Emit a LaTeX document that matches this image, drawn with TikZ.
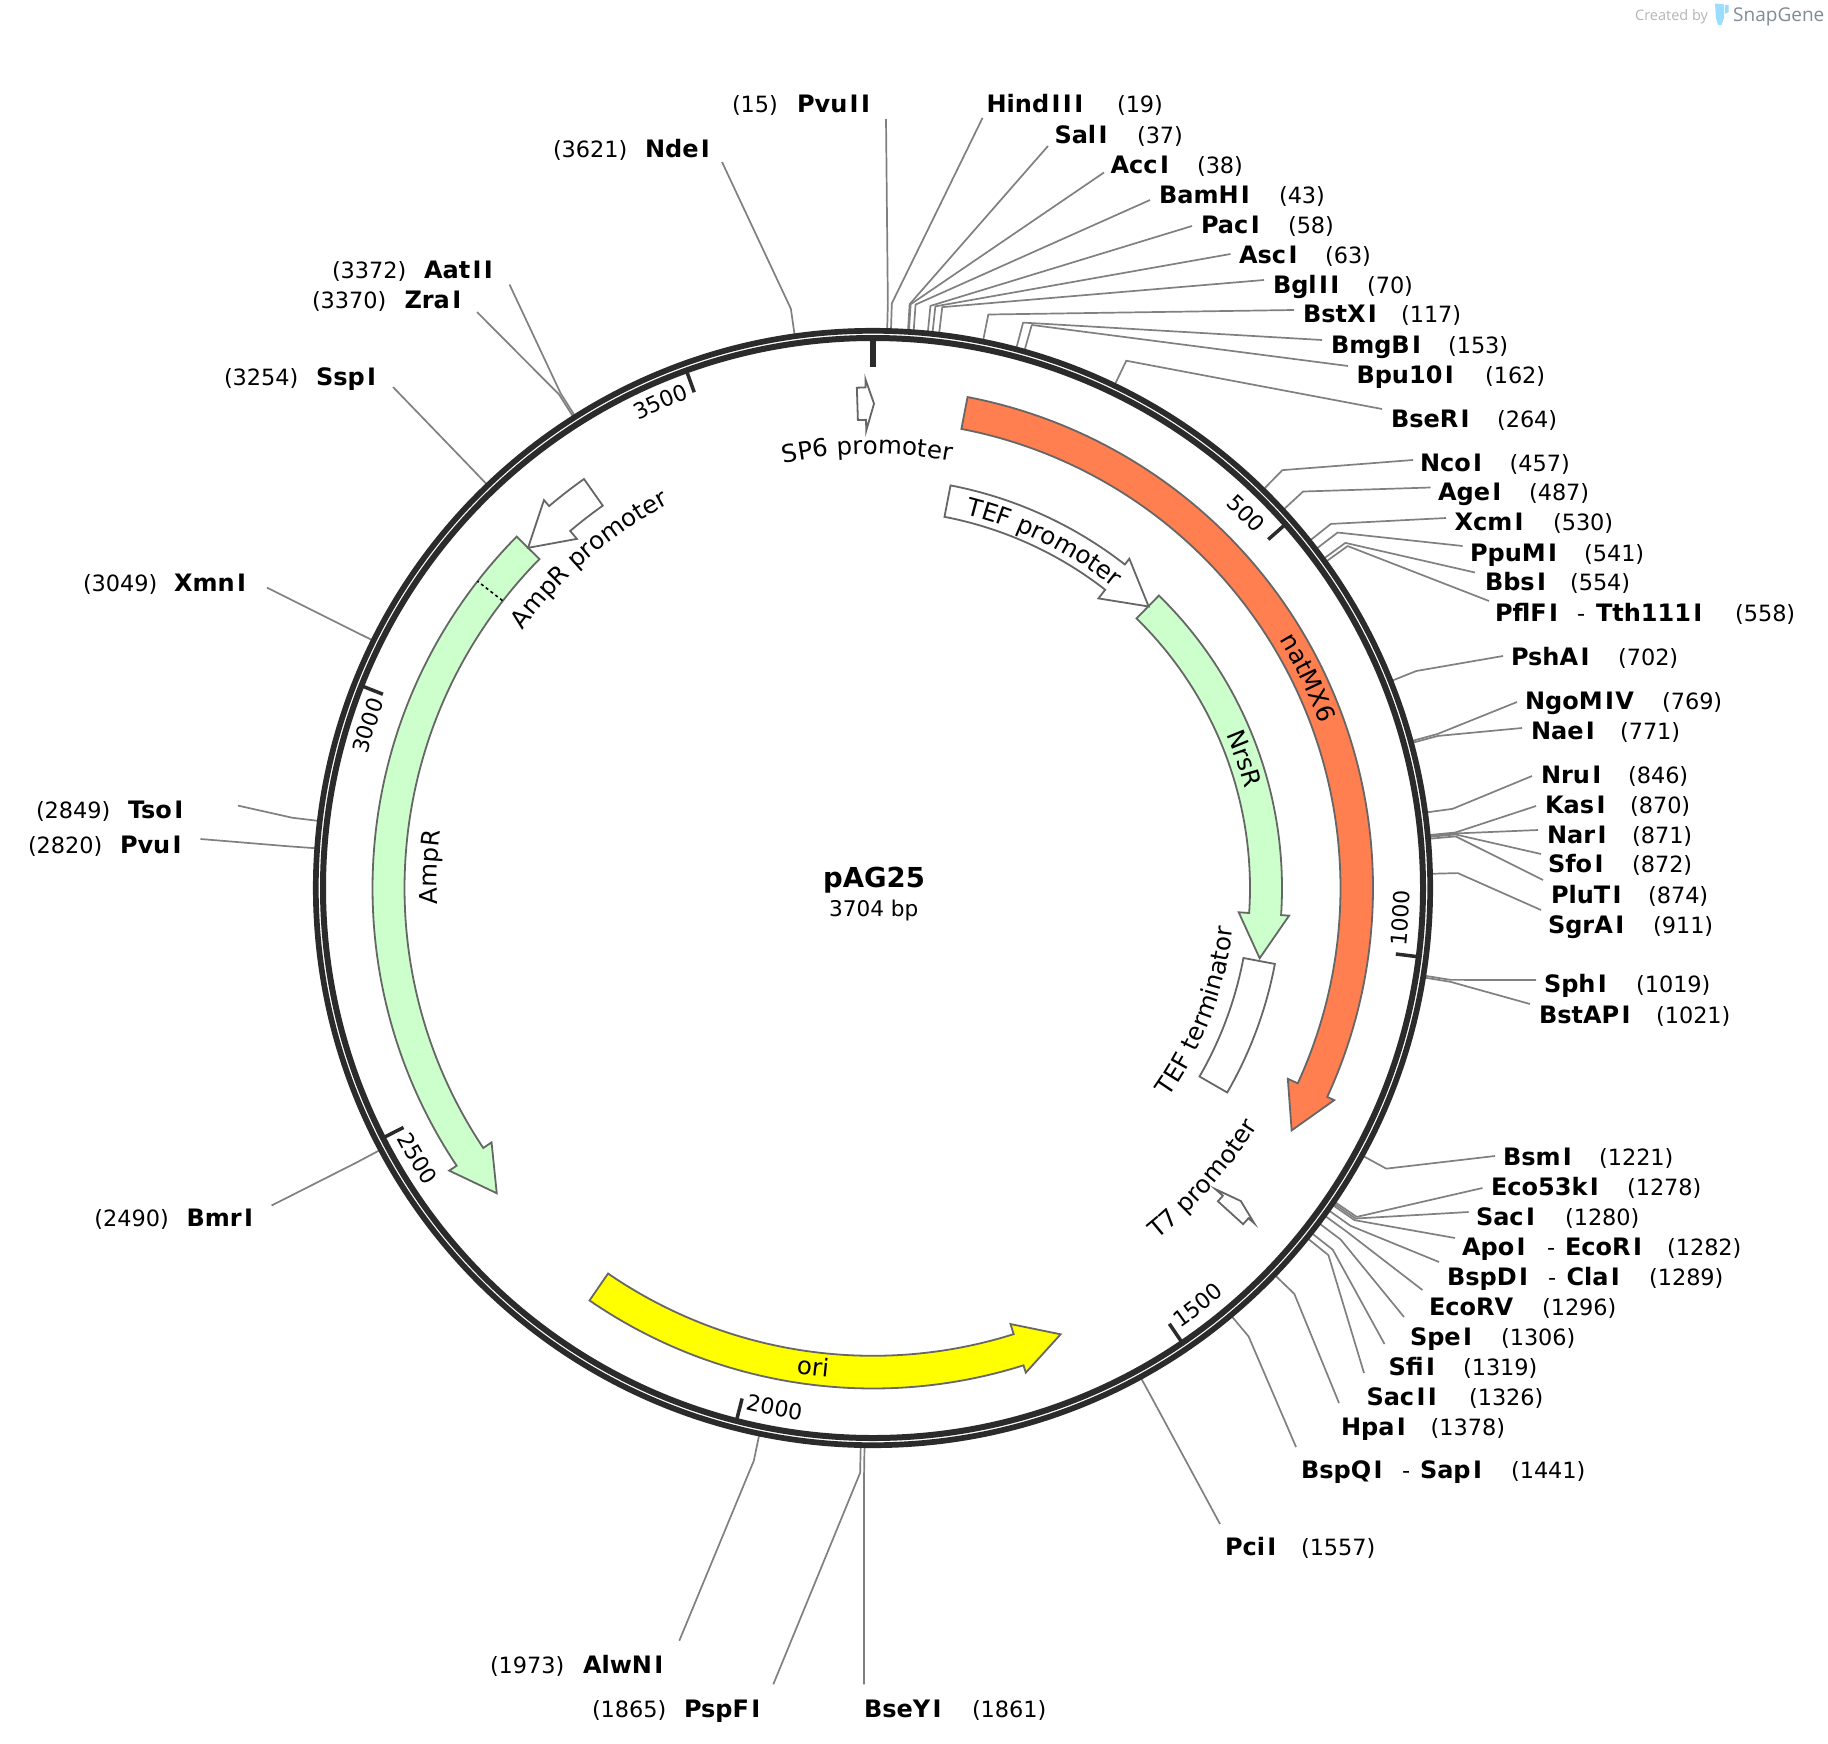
\documentclass[tikz,border=0pt]{standalone}
\usepackage{fontspec}
\setmainfont{DejaVu Sans}
\newfontfamily\snapfont{Open Sans}
\usetikzlibrary{decorations.text}
% the reference's bold capital I is wider than this font's: give it room
\XeTeXinterchartokenstate=1
\newXeTeXintercharclass\capIclass
\XeTeXcharclass`I=\capIclass
\XeTeXinterchartoks 0 \capIclass={\kern.1em\relax}
\XeTeXinterchartoks \capIclass \capIclass={\kern.1em\relax}
\XeTeXinterchartoks \capIclass 0={\kern.06em\relax}
\definecolor{ringcol}{HTML}{2B2B2B}
\definecolor{leadcol}{HTML}{808080}
\definecolor{edgecol}{HTML}{666666}
\definecolor{natcol}{HTML}{FF7F50}
\definecolor{grncol}{HTML}{CCFFCC}
\definecolor{oricol}{HTML}{FFFF00}
\definecolor{logocol}{HTML}{99DDFF}
\definecolor{snapcol}{HTML}{7F8C96}
\definecolor{madecol}{HTML}{B5B5B5}
\tikzset{
  enzname/.style={font=\fontsize{24}{28}\selectfont\bfseries,inner sep=0pt,outer sep=0pt,anchor=base west},
  enznum/.style={font=\fontsize{22.4}{26}\selectfont,inner sep=0pt,outer sep=0pt,anchor=base west},
  leader/.style={draw=leadcol,line width=1.7pt,line join=round},
  feat/.style={draw=edgecol,line width=1.8pt,line join=miter},
  tickline/.style={draw=ringcol,line width=3.5pt},
}
\def\featfont{\fontsize{24.5}{28}\selectfont}
\def\tickfont{\fontsize{22}{26}\selectfont}
% name, position, name x, text centre y, number x, leader end x, y
\newcommand{\enz}[7]{%
  \node[enzname] (n#1) at (#3,{-(#4+9.2)}) {#1};
  \node[enznum] (p#1) at (#5,{-(#4+9.2)}) {(#2)};
  \coordinate (s#1) at ({873+559*sin(#2/3704*360)},{-888+559*cos(#2/3704*360)});
  \coordinate (k#1) at ({873+585*sin(#2/3704*360)},{-888+585*cos(#2/3704*360)});
  \coordinate (e#1) at (#6,-#7);
  \draw[leader] (s#1) -- (k#1) -- (e#1);
}
% id, second name, dash x, second name x, text centre y
\newcommand{\enzsecond}[5]{%
  \node[enznum] (d#1) at (#3,{-(#5+9.2)}) {-};
  \node[enzname] (m#1) at (#4,{-(#5+9.2)}) {#2};
}
% start angle, wing angle, tip angle, inner r, outer r, wing inner r, wing outer r, fill
\newcommand{\farrow}[8]{%
  \draw[feat,fill=#8] ({90-(#1)}:#5) arc[start angle={90-(#1)},end angle={90-(#2)},radius=#5pt]
    -- ({90-(#2)}:#7) -- ({90-(#3)}:{(#4+#5)/2}) -- ({90-(#2)}:#6) -- ({90-(#2)}:#4)
    arc[start angle={90-(#2)},end angle={90-(#1)},radius=#4pt] -- cycle;
}
% clockwise text: letters' tops outward
\newcommand{\cwtext}[4]{%
  \path[decorate,decoration={text along path,text={|#4|#1},text align=center}]
    ({90-(#2)+45}:#3) arc[start angle={90-(#2)+45},end angle={90-(#2)-45},radius=#3pt];
}
% counter-clockwise text: letters' tops inward
\newcommand{\ccwtext}[4]{%
  \path[decorate,decoration={text along path,text={|#4|#1},text align=center}]
    ({90-(#2)-45}:#3) arc[start angle={90-(#2)-45},end angle={90-(#2)+45},radius=#3pt];
}
\newcommand{\scaletick}[1]{%
  \draw[tickline] ({90-#1/3704*360}:549) -- ({90-#1/3704*360}:527);
}
\begin{document}
\begin{tikzpicture}[x=1pt,y=1pt]
\useasboundingbox (0,0) rectangle (1828,-1744);
\fill[white] (0,0) rectangle (1828,-1744);

% enzyme sites
\enz{PvuII}{15}{797}{103}{732}{886}{119}
\enz{HindIII}{19}{986.6}{103}{1117}{982.5}{118}
\enz{SalI}{37}{1054.5}{134}{1137}{1048}{146}
\enz{AccI}{38}{1110.6}{164}{1197}{1104}{172.5}
\enz{BamHI}{43}{1159}{194}{1279}{1150}{200}
\enz{PacI}{58}{1201}{224}{1288}{1192}{226}
\enz{AscI}{63}{1239}{254}{1325}{1230.5}{254}
\enz{BglII}{70}{1273}{284}{1367}{1264}{280}
\enz{BstXI}{117}{1303}{313.6}{1401}{1294}{310}
\enz{BmgBI}{153}{1331}{344}{1448}{1322}{340}
\enz{Bpu10I}{162}{1356.5}{374}{1485}{1348}{366}
\enz{BseRI}{264}{1391}{418}{1497}{1382}{409}
\enz{NcoI}{457}{1420}{462}{1509.6}{1413}{460}
\enz{AgeI}{487}{1438}{491}{1529}{1430.5}{487.5}
\enz{XcmI}{530}{1454.5}{521}{1553}{1446}{518}
\enz{PpuMI}{541}{1470}{552}{1584}{1462.6}{546}
\enz{BbsI}{554}{1485}{581}{1570}{1475}{572.5}
\enz{PflFI}{558}{1495}{612}{1735}{1489}{601}
\enzsecond{PflFI}{Tth111I}{1577}{1596}{612}
\enz{PshAI}{702}{1511}{656}{1618}{1503}{656}
\enz{NgoMIV}{769}{1525}{700}{1662}{1517}{702}
\enz{NaeI}{771}{1531}{730}{1620}{1522}{728}
\enz{NruI}{846}{1541}{774}{1628}{1532}{776}
\enz{KasI}{870}{1545}{804}{1630}{1536}{806}
\enz{NarI}{871}{1547}{834}{1632}{1538}{830}
\enz{SfoI}{872}{1548}{863}{1632}{1541}{854}
\enz{PluTI}{874}{1551}{894}{1648}{1543}{880}
\enz{SgrAI}{911}{1548}{924}{1653}{1541}{910}
\enz{SphI}{1019}{1544}{983}{1636}{1536}{980}
\enz{BstAPI}{1021}{1539}{1014}{1656}{1530}{1004}
\enz{BsmI}{1221}{1503}{1156}{1599}{1495}{1156}
\enz{Eco53kI}{1278}{1491}{1186}{1627}{1482.4}{1188}
\enz{SacI}{1280}{1476}{1216}{1565}{1468.6}{1212}
\enz{ApoI}{1282}{1462}{1246}{1667}{1455}{1238}
\enzsecond{ApoI}{EcoRI}{1547}{1565}{1246}
\enz{BspDI}{1289}{1447}{1276}{1649}{1439}{1262}
\enzsecond{BspDI}{ClaI}{1548}{1566.5}{1276}
\enz{EcoRV}{1296}{1429}{1306}{1542}{1422.4}{1290}
\enz{SpeI}{1306}{1410}{1336}{1501}{1404}{1317}
\enz{SfiI}{1319}{1388.6}{1366}{1463}{1384.5}{1344}
\enz{SacII}{1326}{1366.5}{1396}{1469}{1364}{1373}
\enz{HpaI}{1378}{1341}{1426}{1430.6}{1339}{1403}
\enz{BspQI}{1441}{1301}{1469}{1511}{1296}{1447}
\enzsecond{BspQI}{SapI}{1402}{1420}{1469}
\enz{PciI}{1557}{1225}{1546}{1301}{1220}{1524}
\enz{BseYI}{1861}{864}{1708}{972}{864}{1684.3}
\enz{PspFI}{1865}{684}{1708}{592}{773.3}{1684.3}
\enz{AlwNI}{1973}{583}{1664}{490}{679.3}{1640.7}
\enz{BmrI}{2490}{186.5}{1217}{94.4}{271.6}{1205.5}
\enz{PvuI}{2820}{120}{844}{28}{200.5}{839}
\enz{TsoI}{2849}{128}{809}{36}{238}{805.6}
\enz{XmnI}{3049}{174}{582}{83}{267}{587.6}
\enz{SspI}{3254}{316}{376.6}{224}{393}{387}
\enz{ZraI}{3370}{404.5}{299.6}{312}{477}{312}
\enz{AatII}{3372}{424}{269}{332}{509.5}{284.5}
\enz{NdeI}{3621}{645}{148}{553}{722}{162}

\begin{scope}[shift={(873,-888)}]
  % backbone
  \draw[draw=ringcol,line width=5.7pt] (0,0) circle[radius=557.2pt];
  \draw[draw=ringcol,line width=6pt] (0,0) circle[radius=550pt];
  % scale
  \draw[draw=ringcol,line width=5.7pt] (90:549) -- (90:521);
  \scaletick{500}\scaletick{1000}\scaletick{1500}\scaletick{2000}\scaletick{2500}\scaletick{3000}\scaletick{3500}
  \cwtext{500}{44.9}{521}{\tickfont}
  \ccwtext{1000}{93.3}{536.5}{\tickfont}
  \ccwtext{1500}{142.1}{537}{\tickfont}
  \ccwtext{2000}{190.7}{537}{\tickfont}
  \ccwtext{2500}{239.3}{538}{\tickfont}
  \cwtext{3000}{287.8}{523}{\tickfont}
  \cwtext{3500}{336.4}{523}{\tickfont}

  % features
  \farrow{10.9}{114.7}{120.07}{467.5}{500}{456.6}{507.7}{natcol}
  \farrow{44.35}{93.8}{100.3}{377}{409}{366.5}{417}{grncol}
  \farrow{10.9}{37.9}{44.4}{378}{410}{367}{417.3}{white}
  \farrow{314.6}{236.3}{230.95}{468.5}{500.5}{458.5}{509.4}{grncol}
  \farrow{324.75}{319.7}{314.6}{468.2}{500.8}{457.8}{508.7}{white}
  \farrow{214.5}{162.5}{157.2}{467.8}{500.5}{457.2}{508.2}{oricol}
  \farrow{-1.85}{-0.85}{0.12}{468.2}{500.6}{457.3}{508.8}{white}
  \farrow{132.25}{131.33}{130.4}{466}{500}{456}{507.8}{white}
  \draw[feat,fill=white] (90-100.7:409) arc[start angle={90-100.7},end angle={90-120},radius=409pt]
    -- (90-120:377) arc[start angle={90-120},end angle={90-100.7},radius=377pt] -- cycle;
  \draw[draw=black,line width=1.6pt,dash pattern=on 3pt off 3pt] (90-307.8:469) -- (90-307.8:500.5);

  % feature labels
  \cwtext{SP6 promoter}{-0.75}{434}{\featfont}
  \cwtext{TEF promoter}{26.3}{385}{\featfont}
  \cwtext{natMX6}{64.2}{476}{\featfont}
  \cwtext{NrsR}{70.8}{385}{\featfont}
  \ccwtext{TEF terminator}{110.8}{362}{\featfont}
  \ccwtext{T7 promoter}{131.4}{452}{\featfont}
  \ccwtext{ori}{187.1}{491}{\featfont}
  \cwtext{AmpR}{272.7}{436}{\featfont}
  \cwtext{AmpR promoter}{319.2}{435}{\featfont}
\end{scope}

% title
\node[font=\fontsize{27.5}{32}\selectfont\bfseries,inner sep=0pt,anchor=base] (title) at (874,-887.7) {pAG25};
\node[font=\fontsize{21.6}{26}\selectfont,inner sep=0pt,anchor=base] (size) at (873.7,-916) {3704 bp};

% credit
\node[font=\snapfont\fontsize{14.5}{17}\selectfont,text=madecol,inner sep=0pt,anchor=base west] (created) at (1635,-21) {Created by};
\node[font=\snapfont\fontsize{19}{23}\selectfont,text=snapcol,inner sep=0pt,anchor=base west] (snap) at (1733,-22) {SnapGene};
\fill[logocol] (1715,-3.5) -- (1724,-4.5) -- (1724,-18) -- (1721.5,-25) -- (1718,-25) -- (1716,-18) -- cycle;
\fill[logocol] (1725,-5) -- (1728.5,-5) -- (1728.5,-12) -- (1725,-14) -- cycle;
\end{tikzpicture}
\end{document}
